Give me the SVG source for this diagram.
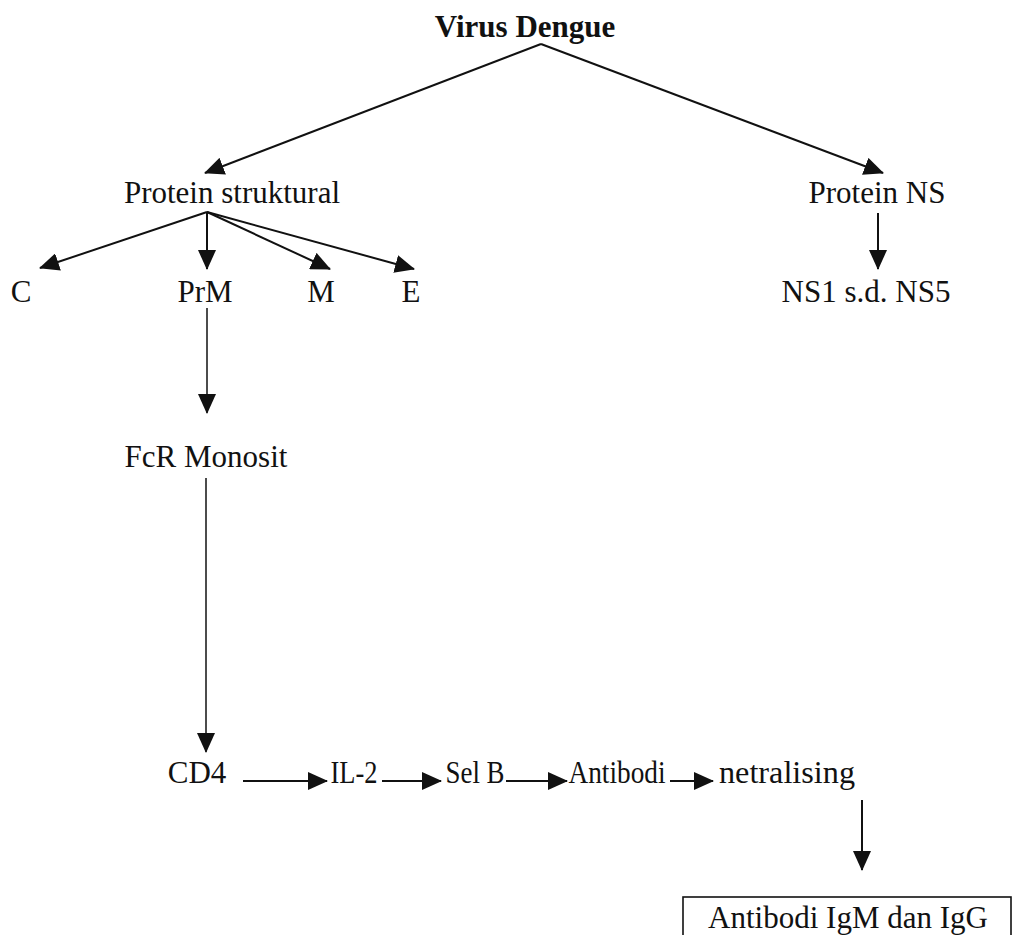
<svg xmlns="http://www.w3.org/2000/svg" width="1015" height="935" viewBox="0 0 1015 935">
<style>
text{font-family:"Liberation Serif","Times New Roman",serif;font-size:31px;fill:#111;text-anchor:middle}
.b{font-weight:bold}
.c line{stroke:#111;stroke-width:2;marker-end:url(#ah)}
.c line.t{stroke-width:1.5}
.box{fill:none;stroke:#111;stroke-width:1.6}
</style>
<defs>
<marker id="ah" markerUnits="userSpaceOnUse" markerWidth="20" markerHeight="18" refX="19" refY="9" orient="auto">
<path d="M0,0 L20,9 L0,18 Z" fill="#111"/>
</marker>
</defs>
<g id="virus"><text class="b" x="525" y="37">Virus Dengue</text></g>
<g id="struktural"><text x="232" y="203">Protein struktural</text></g>
<g id="ns"><text x="877" y="203">Protein NS</text></g>
<g id="c"><text x="21" y="302">C</text></g>
<g id="prm"><text x="205" y="302">PrM</text></g>
<g id="m"><text x="321" y="302">M</text></g>
<g id="e"><text x="411" y="302">E</text></g>
<g id="ns15"><text x="866" y="302">NS1 s.d. NS5</text></g>
<g id="fcr"><text x="206" y="467">FcR Monosit</text></g>
<g id="cd4"><text x="197" y="783">CD4</text></g>
<g id="il2"><text x="354" y="783" textLength="47" lengthAdjust="spacingAndGlyphs">IL-2</text></g>
<g id="selb"><text x="475" y="783" textLength="59" lengthAdjust="spacingAndGlyphs">Sel B</text></g>
<g id="antibodi"><text x="617" y="783" textLength="97" lengthAdjust="spacingAndGlyphs">Antibodi</text></g>
<g id="netral"><text x="787" y="783" textLength="136" lengthAdjust="spacingAndGlyphs">netralising</text></g>
<g id="igmigg"><rect class="box" x="683" y="897" width="328" height="45"/><text x="848" y="928">Antibodi IgM dan IgG</text></g>
<g class="c" id="connectors">
<line x1="541" y1="44" x2="205" y2="173"/>
<line x1="541" y1="44" x2="883" y2="173"/>
<line x1="207" y1="212" x2="40" y2="268"/>
<line x1="207" y1="212" x2="207" y2="269"/>
<line x1="207" y1="212" x2="330" y2="269"/>
<line x1="207" y1="212" x2="414" y2="269"/>
<line x1="878" y1="213" x2="878" y2="269"/>
<line class="t" x1="207" y1="308" x2="207" y2="413"/>
<line class="t" x1="206" y1="478" x2="206" y2="752"/>
<line x1="243" y1="781" x2="327" y2="781"/>
<line x1="382" y1="781" x2="441" y2="781"/>
<line x1="506" y1="781" x2="567" y2="781"/>
<line x1="670" y1="781" x2="713" y2="781"/>
<line x1="862" y1="800" x2="862" y2="870"/>
</g>
</svg>
